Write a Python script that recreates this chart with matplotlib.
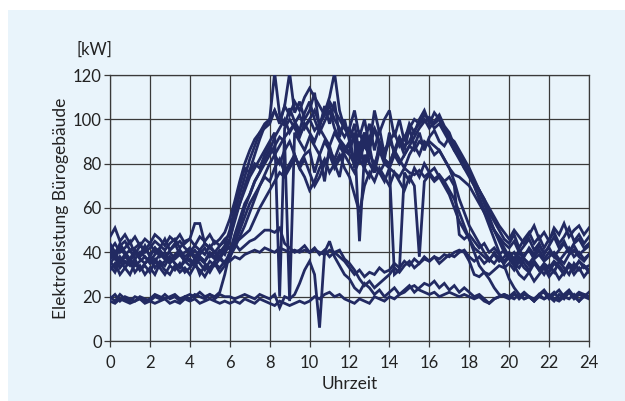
import numpy as np
import matplotlib.pyplot as plt
from matplotlib.patches import Rectangle

# time axis: quarter-hour readings from 0:00 to 24:00 #
hours = np.arange(97) / 4.0

# workday load profiles [kW] #
w1 = [42, 38, 44, 40, 37, 41, 39, 43,
      38, 42, 40, 37, 41, 44, 39, 40,
      42, 38, 41, 39, 43, 40, 38, 42,
      46, 54, 62, 70, 77, 84, 91, 97,
      100, 121, 102, 97, 105, 99, 95, 103,
      108, 100, 94, 99, 104, 96, 91, 88,
      85, 94, 80, 90, 98, 86, 96, 84,
      90, 86, 92, 88, 90, 95, 98, 100,
      96, 99, 102, 97, 94, 88, 84, 79,
      75, 70, 65, 59, 54, 50, 47, 44,
      42, 45, 40, 43, 46, 41, 44, 39,
      43, 47, 42, 45, 40, 44, 46, 42,
      44]
w2 = [47, 51, 45, 48, 44, 47, 43, 46,
      44, 48, 46, 43, 47, 45, 48, 44,
      46, 43, 47, 45, 48, 44, 46, 49,
      55, 63, 72, 80, 86, 91, 94, 96,
      98, 104, 99, 106, 121, 103, 108, 100,
      104, 112, 96, 106, 98, 108, 92, 100,
      90, 98, 84, 94, 86, 96, 88, 82,
      94, 84, 92, 86, 96, 88, 94, 86,
      92, 95, 90, 88, 92, 86, 83, 78,
      76, 72, 68, 64, 60, 56, 52, 49,
      46, 50, 47, 44, 48, 52, 46, 49,
      45, 51, 48, 53, 47, 50, 52, 48,
      51]
w3 = [34, 31, 36, 33, 30, 35, 32, 34,
      31, 36, 33, 30, 34, 32, 35, 31,
      33, 36, 30, 34, 31, 35, 33, 36,
      38, 42, 47, 52, 58, 64, 70, 75,
      80, 84, 88, 92, 95, 98, 93, 97,
      100, 95, 98, 103, 110, 121, 104, 96,
      92, 80, 90, 78, 88, 76, 86, 80,
      80, 86, 90, 84, 88, 92, 96, 99,
      101, 98, 100, 96, 92, 90, 86, 82,
      78, 73, 68, 62, 56, 50, 45, 40,
      37, 34, 38, 35, 32, 36, 33, 30,
      34, 31, 36, 33, 30, 35, 32, 34,
      31]
w4 = [38, 40, 36, 39, 41, 37, 40, 38,
      36, 39, 41, 38, 40, 37, 39, 36,
      39, 41, 38, 36, 40, 38, 41, 39,
      45, 56, 62, 68, 74, 78, 82, 86,
      90, 94, 20, 96, 100, 96, 92, 98,
      94, 90, 96, 92, 88, 94, 90, 86,
      88, 92, 45, 84, 80, 78, 76, 80,
      78, 76, 74, 78, 76, 75, 77, 74,
      76, 73, 75, 72, 74, 70, 48, 46,
      48, 45, 42, 44, 40, 42, 39, 41,
      38, 40, 36, 39, 41, 37, 39, 36,
      38, 40, 37, 35, 39, 41, 38, 36,
      39]
w5 = [32, 35, 30, 33, 36, 31, 34, 30,
      33, 30, 35, 32, 30, 34, 31, 33,
      30, 34, 32, 29, 33, 35, 31, 34,
      37, 45, 52, 60, 66, 72, 76, 80,
      84, 88, 92, 90, 18, 94, 90, 86,
      92, 88, 84, 90, 86, 82, 88, 84,
      80, 76, 82, 78, 74, 80, 76, 72,
      78, 30, 32, 76, 72, 78, 74, 80,
      76, 78, 74, 72, 68, 64, 58, 52,
      46, 40, 34, 31, 30, 32, 34, 33,
      35, 32, 36, 33, 31, 35, 32, 34,
      31, 35, 33, 30, 34, 32, 36, 33,
      34]
w6 = [36, 33, 38, 35, 37, 34, 36, 38,
      35, 37, 34, 36, 38, 35, 33, 37,
      36, 34, 37, 35, 33, 36, 38, 35,
      40, 44, 50, 56, 62, 66, 70, 74,
      72, 78, 82, 76, 80, 84, 78, 74,
      68, 72, 78, 82, 76, 80, 84, 78,
      74, 66, 58, 70, 76, 72, 78, 74,
      70, 76, 72, 68, 74, 70, 38, 72,
      75, 72, 74, 70, 66, 60, 54, 50,
      46, 42, 40, 38, 36, 40, 37, 35,
      38, 35, 33, 37, 34, 36, 32, 35,
      33, 36, 34, 31, 35, 33, 36, 34,
      32]
w7 = [19, 21, 18, 20, 19, 18, 20, 19,
      18, 20, 19, 21, 19, 20, 18, 20,
      19, 21, 20, 19, 21, 20, 22, 30,
      40, 48, 55, 62, 66, 72, 76, 82,
      86, 92, 96, 100, 94, 98, 102, 96,
      100, 104, 98, 102, 106, 100, 96, 92,
      96, 90, 94, 88, 92, 96, 90, 86,
      90, 94, 88, 92, 96, 100, 98, 102,
      100, 96, 98, 94, 90, 86, 82, 78,
      74, 70, 64, 58, 52, 46, 40, 34,
      28, 24, 21, 19, 20, 18, 21, 19,
      20, 18, 21, 19, 22, 20, 18, 21,
      20]
w8 = [44, 40, 43, 45, 41, 42, 44, 40,
      42, 45, 43, 41, 44, 46, 42, 45,
      46, 53, 53, 44, 42, 45, 43, 46,
      48, 58, 66, 74, 82, 88, 94, 98,
      100, 104, 98, 106, 102, 108, 104, 110,
      114, 110, 106, 102, 108, 104, 100, 96,
      96, 104, 92, 100, 88, 104, 94, 100,
      104, 92, 100, 90, 98, 94, 100, 104,
      98, 103, 100, 96, 92, 88, 84, 80,
      76, 72, 68, 64, 58, 54, 50, 46,
      44, 48, 42, 46, 49, 44, 47, 42,
      46, 49, 44, 47, 51, 45, 48, 44,
      47]
w9 = [40, 37, 42, 39, 36, 40, 38, 41,
      39, 42, 38, 40, 36, 39, 41, 38,
      40, 37, 39, 42, 38, 40, 37, 41,
      42, 44, 46, 48, 50, 55, 60, 64,
      68, 72, 76, 74, 78, 82, 80, 84,
      86, 76, 84, 72, 88, 80, 74, 86,
      84, 80, 84, 88, 84, 80, 86, 82,
      78, 84, 80, 84, 88, 86, 90, 88,
      90, 88, 86, 82, 78, 75, 74, 72,
      70, 66, 62, 58, 54, 50, 46, 42,
      38, 34, 30, 28, 31, 27, 30, 33,
      29, 32, 28, 31, 34, 30, 33, 29,
      32]
w10 = [37, 39, 35, 38, 36, 40, 37, 35,
       38, 36, 39, 37, 35, 38, 40, 36,
       37, 35, 38, 36, 39, 37, 40, 43,
       50, 60, 70, 78, 76, 80, 78, 84,
       88, 84, 80, 86, 90, 84, 78, 82,
       76, 70, 74, 80, 84, 78, 82, 86,
       90, 78, 88, 94, 80, 76, 90, 82,
       80, 86, 82, 78, 84, 88, 84, 90,
       88, 84, 86, 82, 78, 72, 64, 58,
       52, 48, 44, 40, 37, 35, 38, 36,
       39, 36, 40, 37, 35, 38, 41, 37,
       40, 38, 36, 39, 42, 38, 40, 37,
       39]

# weekend / holiday profiles [kW] #
l1 = [18, 17, 19, 18, 17, 18, 19, 17,
      18, 17, 18, 19, 17, 18, 17, 19,
      18, 19, 17, 18, 19, 18, 17, 18,
      17, 18, 17, 19, 18, 17, 19, 18,
      17, 16, 18, 17, 16, 17, 18, 17,
      18, 20, 19, 21, 22, 20, 21, 19,
      18, 17, 19, 18, 17, 20, 19, 18,
      20, 19, 21, 22, 24, 25, 23, 22,
      21, 22, 20, 21, 22, 21, 20, 21,
      20, 19, 20, 18, 17, 19, 20, 21,
      20, 19, 21, 19, 20, 18, 20, 19,
      21, 19, 18, 20, 19, 21, 18, 20,
      19]
l2 = [20, 18, 21, 19, 18, 20, 19, 18,
      19, 21, 20, 19, 20, 21, 19, 20,
      21, 20, 22, 20, 21, 19, 21, 20,
      20, 19, 20, 21, 20, 19, 21, 20,
      19, 21, 15, 20, 19, 21, 26, 32,
      36, 30, 6, 40, 45, 38, 34, 30,
      28, 24, 22, 26, 24, 21, 23, 20,
      22, 24, 21, 23, 25, 22, 24, 26,
      25, 27, 24, 26, 23, 25, 22, 24,
      22, 20, 21, 19, 17, 19, 20, 21,
      20, 22, 19, 21, 20, 18, 21, 22,
      19, 21, 23, 20, 22, 19, 21, 20,
      22]
l3 = [41, 44, 40, 42, 45, 39, 43, 41,
      44, 40, 42, 46, 41, 43, 45, 42,
      40, 43, 41, 44, 42, 40, 43, 45,
      42, 44, 41, 43, 45, 46, 48, 50,
      50, 49, 51, 44, 42, 40, 41, 43,
      40, 42, 39, 41, 38, 40, 41, 37,
      35, 32, 28, 25, 27, 24, 26, 28,
      30, 33, 31, 34, 36, 33, 35, 37,
      36, 38, 35, 37, 39, 38, 40, 41,
      38, 36, 38, 35, 37, 39, 36, 38,
      40, 37, 41, 38, 42, 39, 43, 40,
      42, 38, 41, 44, 40, 43, 39, 41,
      43]
l4 = [35, 38, 33, 36, 34, 37, 32, 35,
      37, 33, 36, 34, 38, 35, 33, 36,
      34, 37, 35, 32, 36, 34, 37, 35,
      36, 38, 37, 39, 40, 41, 40, 42,
      41, 40, 42, 41, 40, 41, 40, 41,
      40, 41, 40, 39, 41, 40, 38, 36,
      33, 30, 32, 29, 31, 30, 33, 31,
      32, 35, 33, 36, 34, 37, 35, 38,
      36, 38, 37, 39, 38, 40, 41, 40,
      36, 30, 29, 31, 28, 24, 21, 20,
      19, 21, 20, 22, 20, 19, 21, 23,
      20, 22, 19, 21, 23, 20, 22, 21,
      20]

profiles = [w1, w2, w3, w4, w5, w6, w7, w8, w9, w10, l1, l2, l3, l4]

x_ticks = np.arange(0, 25, 2)
y_ticks = np.arange(0, 121, 20)

bg = '#e9f4fb'
navy = '#222a62'
gridc = '#3a3a3a'

plt.rcParams['font.family'] = ['Lato', 'DejaVu Sans']

fig = plt.figure(figsize=(6.25, 4.01), dpi=100, facecolor='white')
fig.patches.append(Rectangle((8/625, 0), 1 - 8/625, 1 - 10/401,
                             transform=fig.transFigure, facecolor=bg,
                             edgecolor='none', zorder=-10))
ax = fig.add_axes([110/625, 1 - 341/401, 479/625, 266/401])
ax.set_facecolor(bg)

for p in profiles:
    ax.plot(hours, p, color=navy, lw=2.0, solid_joinstyle='miter', zorder=3)

ax.set_xlim(0, 24)
ax.set_ylim(0, 120)
ax.set_xticks(x_ticks)
ax.set_yticks(y_ticks)
ax.grid(True, color=gridc, lw=0.9, zorder=1)
ax.set_axisbelow(True)
for s in ax.spines.values():
    s.set_color(gridc)
    s.set_linewidth(0.9)
ax.tick_params(direction='out', length=4, width=0.9, color=gridc,
               labelsize=12, labelcolor='#222222')
ax.tick_params(axis='x', pad=6)
ax.tick_params(axis='y', pad=2)

ax.set_xlabel('Uhrzeit', fontsize=12.5, color='#222222', labelpad=4)
ax.set_ylabel('Elektroleistung Bürogebäude', fontsize=12.5, color='#222222', labelpad=3)
fig.text(76/625, 1 - 50/401, '[kW]', fontsize=12, color='#222222', va='center')

fig.savefig('out.png', dpi=100, facecolor=fig.get_facecolor())
